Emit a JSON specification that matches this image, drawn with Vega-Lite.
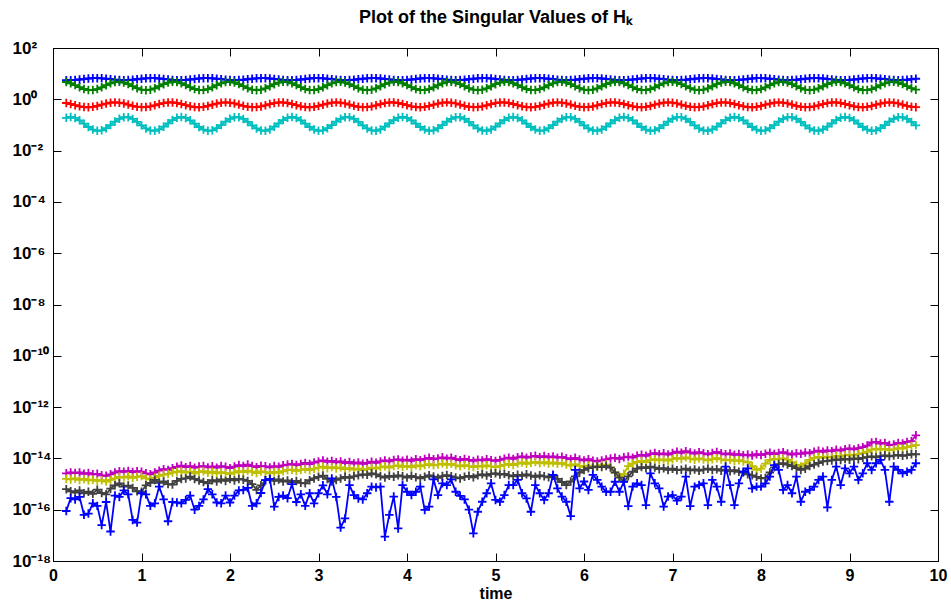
{
"$schema":"https://vega.github.io/schema/vega-lite/v6.json",
"width":885,"height":513,
"autosize":{"type":"none"},
"padding":{"left":53,"top":48,"right":13,"bottom":44},
"background":"white",
"title":{"text":"Plot of the Singular Values of Hₖ","anchor":"middle","frame":"group","font":"Liberation Sans","fontSize":18,"fontWeight":"bold","color":"black","offset":-6,"baseline":"bottom"},
"config":{"view":{"stroke":"black","strokeWidth":1},"axis":{"labelFont":"Liberation Sans","labelFontWeight":"bold","labelColor":"black","titleFont":"Liberation Sans","titleColor":"black","domainColor":"black","tickColor":"black","grid":false,"labelFlush":false,"labelOverlap":false,"labelBound":false}},
"data":{"values":[
{"t":0.15,"a":5.57,"g":4.72,"r":0.718,"c":0.19,"m":2.63e-15,"o":1.58e-15,"d":6.31e-16,"b":8.91e-17},
{"t":0.2,"a":5.57,"g":4.23,"r":0.656,"c":0.204,"m":2.82e-15,"o":1.51e-15,"d":5.25e-16,"b":2.82e-16},
{"t":0.25,"a":5.7,"g":3.57,"r":0.589,"c":0.188,"m":2.69e-15,"o":1.66e-15,"d":4.68e-16,"b":2.51e-16},
{"t":0.3,"a":5.92,"g":2.96,"r":0.532,"c":0.151,"m":2.82e-15,"o":1.45e-15,"d":5.62e-16,"b":3.16e-16},
{"t":0.35,"a":6.19,"g":2.52,"r":0.499,"c":0.112,"m":2.51e-15,"o":1.58e-15,"d":4.37e-16,"b":6.31e-17},
{"t":0.4,"a":6.46,"g":2.3,"r":0.49,"c":0.0832,"m":2.69e-15,"o":1.38e-15,"d":5.01e-16,"b":7.08e-17},
{"t":0.45,"a":6.64,"g":2.29,"r":0.509,"c":0.0658,"m":2.4e-15,"o":1.48e-15,"d":4.17e-16,"b":1.78e-16},
{"t":0.5,"a":6.68,"g":2.51,"r":0.552,"c":0.059,"m":2.51e-15,"o":1.32e-15,"d":6.03e-16,"b":1.41e-16},
{"t":0.55,"a":6.58,"g":2.93,"r":0.615,"c":0.0618,"m":2.19e-15,"o":1.41e-15,"d":4.47e-16,"b":2.51e-17},
{"t":0.6,"a":6.34,"g":3.54,"r":0.682,"c":0.0746,"m":2.09e-15,"o":1.26e-15,"d":3.98e-16,"b":2e-16},
{"t":0.65,"a":6.07,"g":4.21,"r":0.736,"c":0.0989,"m":2.4e-15,"o":1.45e-15,"d":6.61e-16,"b":1.41e-17},
{"t":0.7,"a":5.81,"g":4.71,"r":0.759,"c":0.135,"m":2.82e-15,"o":1.66e-15,"d":8.91e-16,"b":3.55e-16},
{"t":0.75,"a":5.62,"g":4.83,"r":0.74,"c":0.174,"m":3.16e-15,"o":1.91e-15,"d":1.07e-15,"b":3.16e-16},
{"t":0.8,"a":5.56,"g":4.51,"r":0.689,"c":0.201,"m":3.02e-15,"o":1.78e-15,"d":7.94e-16,"b":5.62e-16},
{"t":0.85,"a":5.62,"g":3.91,"r":0.621,"c":0.2,"m":3.24e-15,"o":2e-15,"d":8.71e-16,"b":3.98e-16},
{"t":0.9,"a":5.79,"g":3.24,"r":0.558,"c":0.171,"m":2.95e-15,"o":1.74e-15,"d":7.08e-16,"b":3.98e-17},
{"t":0.95,"a":6.06,"g":2.71,"r":0.513,"c":0.131,"m":3.16e-15,"o":1.91e-15,"d":5.25e-16,"b":3.16e-17},
{"t":1.0,"a":6.34,"g":2.38,"r":0.491,"c":0.0962,"m":3.02e-15,"o":2.04e-15,"d":5.01e-16,"b":4.37e-16},
{"t":1.05,"a":6.56,"g":2.26,"r":0.497,"c":0.073,"m":2.63e-15,"o":1.66e-15,"d":8.91e-16,"b":3.98e-16},
{"t":1.1,"a":6.68,"g":2.37,"r":0.528,"c":0.0612,"m":2.4e-15,"o":1.51e-15,"d":1.12e-15,"b":1.41e-16},
{"t":1.15,"a":6.64,"g":2.69,"r":0.582,"c":0.0593,"m":2.82e-15,"o":1.78e-15,"d":1.45e-15,"b":1.78e-16},
{"t":1.2,"a":6.47,"g":3.22,"r":0.649,"c":0.0668,"m":3.31e-15,"o":2.09e-15,"d":1.12e-15,"b":7.94e-16},
{"t":1.25,"a":6.21,"g":3.88,"r":0.713,"c":0.0853,"m":3.8e-15,"o":2.34e-15,"d":1.26e-15,"b":2.51e-16},
{"t":1.3,"a":5.93,"g":4.49,"r":0.752,"c":0.116,"m":3.55e-15,"o":2.51e-15,"d":1e-15,"b":3.55e-17},
{"t":1.35,"a":5.7,"g":4.83,"r":0.755,"c":0.155,"m":4.17e-15,"o":2.82e-15,"d":9.55e-16,"b":2e-16},
{"t":1.4,"a":5.57,"g":4.72,"r":0.718,"c":0.19,"m":4.68e-15,"o":3.02e-15,"d":1.32e-15,"b":1.91e-16},
{"t":1.45,"a":5.57,"g":4.23,"r":0.656,"c":0.204,"m":5.25e-15,"o":3.16e-15,"d":1.58e-15,"b":1.78e-16},
{"t":1.5,"a":5.7,"g":3.57,"r":0.589,"c":0.188,"m":4.57e-15,"o":2.82e-15,"d":1.66e-15,"b":2.4e-16},
{"t":1.55,"a":5.92,"g":2.96,"r":0.532,"c":0.151,"m":5.01e-15,"o":3.02e-15,"d":1.95e-15,"b":3.55e-16},
{"t":1.6,"a":6.19,"g":2.52,"r":0.499,"c":0.112,"m":4.37e-15,"o":2.63e-15,"d":1.58e-15,"b":1e-16},
{"t":1.65,"a":6.46,"g":2.3,"r":0.49,"c":0.0832,"m":4.79e-15,"o":2.95e-15,"d":1.38e-15,"b":1.41e-16},
{"t":1.7,"a":6.64,"g":2.29,"r":0.509,"c":0.0658,"m":5.01e-15,"o":3.16e-15,"d":1.2e-15,"b":2.51e-16},
{"t":1.75,"a":6.68,"g":2.51,"r":0.552,"c":0.059,"m":4.47e-15,"o":2.75e-15,"d":1.07e-15,"b":6.31e-16},
{"t":1.8,"a":6.58,"g":2.93,"r":0.615,"c":0.0618,"m":4.9e-15,"o":3.02e-15,"d":1.41e-15,"b":3.98e-16},
{"t":1.85,"a":6.34,"g":3.54,"r":0.682,"c":0.0746,"m":4.37e-15,"o":2.63e-15,"d":1.26e-15,"b":1.91e-16},
{"t":1.9,"a":6.07,"g":4.21,"r":0.736,"c":0.0989,"m":5.01e-15,"o":2.88e-15,"d":1.51e-15,"b":1.78e-16},
{"t":1.95,"a":5.81,"g":4.71,"r":0.759,"c":0.135,"m":4.68e-15,"o":2.69e-15,"d":1.32e-15,"b":3.55e-16},
{"t":2.0,"a":5.62,"g":4.83,"r":0.74,"c":0.174,"m":4.17e-15,"o":2.51e-15,"d":1.58e-15,"b":1.91e-16},
{"t":2.05,"a":5.56,"g":4.51,"r":0.689,"c":0.201,"m":4.79e-15,"o":2.82e-15,"d":1.38e-15,"b":3.55e-16},
{"t":2.1,"a":5.62,"g":3.91,"r":0.621,"c":0.2,"m":5.5e-15,"o":3.16e-15,"d":1.58e-15,"b":5.62e-16},
{"t":2.15,"a":5.79,"g":3.24,"r":0.558,"c":0.171,"m":5.01e-15,"o":2.95e-15,"d":1.48e-15,"b":5.89e-16},
{"t":2.2,"a":6.06,"g":2.71,"r":0.513,"c":0.131,"m":5.75e-15,"o":3.31e-15,"d":1.32e-15,"b":7.08e-16},
{"t":2.25,"a":6.34,"g":2.38,"r":0.491,"c":0.0962,"m":5.01e-15,"o":3.02e-15,"d":1e-15,"b":1.41e-16},
{"t":2.3,"a":6.56,"g":2.26,"r":0.497,"c":0.073,"m":4.57e-15,"o":2.69e-15,"d":5.89e-16,"b":1.78e-16},
{"t":2.35,"a":6.68,"g":2.37,"r":0.528,"c":0.0612,"m":5.13e-15,"o":3.09e-15,"d":8.91e-16,"b":4.47e-16},
{"t":2.4,"a":6.64,"g":2.69,"r":0.582,"c":0.0593,"m":4.9e-15,"o":2.88e-15,"d":1.41e-15,"b":1.41e-15},
{"t":2.45,"a":6.47,"g":3.22,"r":0.649,"c":0.0668,"m":4.47e-15,"o":2.63e-15,"d":1.58e-15,"b":1.58e-15},
{"t":2.5,"a":6.21,"g":3.88,"r":0.713,"c":0.0853,"m":5.01e-15,"o":2.95e-15,"d":1.32e-15,"b":1.32e-16},
{"t":2.55,"a":5.93,"g":4.49,"r":0.752,"c":0.116,"m":4.68e-15,"o":2.75e-15,"d":1.51e-15,"b":3.16e-16},
{"t":2.6,"a":5.7,"g":4.83,"r":0.755,"c":0.155,"m":5.37e-15,"o":3.16e-15,"d":1.26e-15,"b":3.55e-16},
{"t":2.65,"a":5.57,"g":4.72,"r":0.718,"c":0.19,"m":5.75e-15,"o":3.47e-15,"d":1.38e-15,"b":2.82e-16},
{"t":2.7,"a":5.57,"g":4.23,"r":0.656,"c":0.204,"m":6.03e-15,"o":3.63e-15,"d":1.18e-15,"b":1e-15},
{"t":2.75,"a":5.7,"g":3.57,"r":0.589,"c":0.188,"m":5.5e-15,"o":3.24e-15,"d":1.32e-15,"b":2e-16},
{"t":2.8,"a":5.92,"g":2.96,"r":0.532,"c":0.151,"m":6.03e-15,"o":3.55e-15,"d":1.12e-15,"b":3.98e-16},
{"t":2.85,"a":6.19,"g":2.52,"r":0.499,"c":0.112,"m":6.61e-15,"o":3.89e-15,"d":1.07e-15,"b":1.41e-16},
{"t":2.9,"a":6.46,"g":2.3,"r":0.49,"c":0.0832,"m":6.03e-15,"o":3.47e-15,"d":1.41e-15,"b":4.37e-16},
{"t":2.95,"a":6.64,"g":2.29,"r":0.509,"c":0.0658,"m":6.92e-15,"o":3.98e-15,"d":1.66e-15,"b":1.78e-16},
{"t":3.0,"a":6.68,"g":2.51,"r":0.552,"c":0.059,"m":7.59e-15,"o":4.37e-15,"d":1.91e-15,"b":4.37e-16},
{"t":3.05,"a":6.58,"g":2.93,"r":0.615,"c":0.0618,"m":8.32e-15,"o":4.79e-15,"d":2.14e-15,"b":8.91e-16},
{"t":3.1,"a":6.34,"g":3.54,"r":0.682,"c":0.0746,"m":7.41e-15,"o":4.17e-15,"d":1.58e-15,"b":3.98e-16},
{"t":3.15,"a":6.07,"g":4.21,"r":0.736,"c":0.0989,"m":7.94e-15,"o":4.57e-15,"d":1.26e-15,"b":1.66e-15},
{"t":3.2,"a":5.81,"g":4.71,"r":0.759,"c":0.135,"m":7.08e-15,"o":4.07e-15,"d":1.45e-15,"b":3.16e-16},
{"t":3.25,"a":5.62,"g":4.83,"r":0.74,"c":0.174,"m":7.59e-15,"o":4.47e-15,"d":1.66e-15,"b":2e-17},
{"t":3.3,"a":5.56,"g":4.51,"r":0.689,"c":0.201,"m":6.61e-15,"o":3.8e-15,"d":1.91e-15,"b":4.57e-17},
{"t":3.35,"a":5.62,"g":3.91,"r":0.621,"c":0.2,"m":7.24e-15,"o":4.17e-15,"d":1.74e-15,"b":9.12e-16},
{"t":3.4,"a":5.79,"g":3.24,"r":0.558,"c":0.171,"m":6.31e-15,"o":3.63e-15,"d":2e-15,"b":3.72e-16},
{"t":3.45,"a":6.06,"g":2.71,"r":0.513,"c":0.131,"m":6.92e-15,"o":3.98e-15,"d":2.19e-15,"b":2.75e-16},
{"t":3.5,"a":6.34,"g":2.38,"r":0.491,"c":0.0962,"m":6.17e-15,"o":3.47e-15,"d":2.4e-15,"b":2.51e-16},
{"t":3.55,"a":6.56,"g":2.26,"r":0.497,"c":0.073,"m":6.61e-15,"o":3.8e-15,"d":2.29e-15,"b":4.37e-16},
{"t":3.6,"a":6.68,"g":2.37,"r":0.528,"c":0.0612,"m":7.41e-15,"o":4.37e-15,"d":2.63e-15,"b":7.94e-16},
{"t":3.65,"a":6.64,"g":2.69,"r":0.582,"c":0.0593,"m":6.76e-15,"o":3.98e-15,"d":2.4e-15,"b":7.41e-16},
{"t":3.7,"a":6.47,"g":3.22,"r":0.649,"c":0.0668,"m":7.59e-15,"o":4.47e-15,"d":2e-15,"b":7.94e-16},
{"t":3.75,"a":6.21,"g":3.88,"r":0.713,"c":0.0853,"m":8.32e-15,"o":4.9e-15,"d":1.78e-15,"b":8.91e-18},
{"t":3.8,"a":5.93,"g":4.49,"r":0.752,"c":0.116,"m":7.59e-15,"o":4.37e-15,"d":2.09e-15,"b":6.31e-17},
{"t":3.85,"a":5.7,"g":4.83,"r":0.755,"c":0.155,"m":8.71e-15,"o":5.01e-15,"d":1.91e-15,"b":3.24e-16},
{"t":3.9,"a":5.57,"g":4.72,"r":0.718,"c":0.19,"m":9.12e-15,"o":5.37e-15,"d":2.19e-15,"b":1.86e-17},
{"t":3.95,"a":5.57,"g":4.23,"r":0.656,"c":0.204,"m":8.13e-15,"o":4.68e-15,"d":2e-15,"b":9.12e-16},
{"t":4.0,"a":5.7,"g":3.57,"r":0.589,"c":0.188,"m":8.91e-15,"o":5.13e-15,"d":1.78e-15,"b":5.01e-16},
{"t":4.05,"a":5.92,"g":2.96,"r":0.532,"c":0.151,"m":7.94e-15,"o":4.57e-15,"d":2.09e-15,"b":3.72e-16},
{"t":4.1,"a":6.19,"g":2.52,"r":0.499,"c":0.112,"m":9.33e-15,"o":5.37e-15,"d":1.86e-15,"b":5.01e-16},
{"t":4.15,"a":6.46,"g":2.3,"r":0.49,"c":0.0832,"m":8.51e-15,"o":4.9e-15,"d":1.66e-15,"b":7.94e-16},
{"t":4.2,"a":6.64,"g":2.29,"r":0.509,"c":0.0658,"m":9.55e-15,"o":5.5e-15,"d":1.91e-15,"b":9.77e-17},
{"t":4.25,"a":6.68,"g":2.51,"r":0.552,"c":0.059,"m":1.05e-14,"o":6.03e-15,"d":2.19e-15,"b":1.32e-16},
{"t":4.3,"a":6.58,"g":2.93,"r":0.615,"c":0.0618,"m":9.33e-15,"o":5.37e-15,"d":1.95e-15,"b":1.51e-15},
{"t":4.35,"a":6.34,"g":3.54,"r":0.682,"c":0.0746,"m":1e-14,"o":5.75e-15,"d":1.74e-15,"b":3.72e-16},
{"t":4.4,"a":6.07,"g":4.21,"r":0.736,"c":0.0989,"m":1.1e-14,"o":6.31e-15,"d":2.04e-15,"b":1.07e-15},
{"t":4.45,"a":5.81,"g":4.71,"r":0.759,"c":0.135,"m":9.77e-15,"o":5.62e-15,"d":2.24e-15,"b":9.12e-16},
{"t":4.5,"a":5.62,"g":4.83,"r":0.74,"c":0.174,"m":1.07e-14,"o":6.17e-15,"d":2e-15,"b":1.51e-15},
{"t":4.55,"a":5.56,"g":4.51,"r":0.689,"c":0.201,"m":9.33e-15,"o":5.37e-15,"d":1.82e-15,"b":5.01e-16},
{"t":4.6,"a":5.62,"g":3.91,"r":0.621,"c":0.2,"m":8.51e-15,"o":4.9e-15,"d":1.66e-15,"b":3.47e-16},
{"t":4.65,"a":5.79,"g":3.24,"r":0.558,"c":0.171,"m":9.55e-15,"o":5.5e-15,"d":1.91e-15,"b":2.51e-16},
{"t":4.7,"a":6.06,"g":2.71,"r":0.513,"c":0.131,"m":8.71e-15,"o":5.01e-15,"d":2.09e-15,"b":1e-16},
{"t":4.75,"a":6.34,"g":2.38,"r":0.491,"c":0.0962,"m":7.94e-15,"o":4.57e-15,"d":1.82e-15,"b":1.2e-17},
{"t":4.8,"a":6.56,"g":2.26,"r":0.497,"c":0.073,"m":8.91e-15,"o":5.13e-15,"d":2.19e-15,"b":8.32e-17},
{"t":4.85,"a":6.68,"g":2.37,"r":0.528,"c":0.0612,"m":8.32e-15,"o":4.79e-15,"d":2.4e-15,"b":2.04e-16},
{"t":4.9,"a":6.64,"g":2.69,"r":0.582,"c":0.0593,"m":9.33e-15,"o":5.37e-15,"d":2.14e-15,"b":4.37e-16},
{"t":4.95,"a":6.47,"g":3.22,"r":0.649,"c":0.0668,"m":8.51e-15,"o":4.9e-15,"d":2.51e-15,"b":1.07e-15},
{"t":5.0,"a":6.21,"g":3.88,"r":0.713,"c":0.0853,"m":7.94e-15,"o":4.57e-15,"d":2.63e-15,"b":2.4e-16},
{"t":5.05,"a":5.93,"g":4.49,"r":0.752,"c":0.116,"m":8.71e-15,"o":5.01e-15,"d":2.34e-15,"b":2.04e-16},
{"t":5.1,"a":5.7,"g":4.83,"r":0.755,"c":0.155,"m":9.77e-15,"o":5.62e-15,"d":2.51e-15,"b":3.72e-16},
{"t":5.15,"a":5.57,"g":4.72,"r":0.718,"c":0.19,"m":1.07e-14,"o":6.17e-15,"d":2.19e-15,"b":9.12e-16},
{"t":5.2,"a":5.57,"g":4.23,"r":0.656,"c":0.204,"m":9.55e-15,"o":5.5e-15,"d":2e-15,"b":9.12e-16},
{"t":5.25,"a":5.7,"g":3.57,"r":0.589,"c":0.188,"m":1.1e-14,"o":6.31e-15,"d":2.29e-15,"b":1.45e-15},
{"t":5.3,"a":5.92,"g":2.96,"r":0.532,"c":0.151,"m":1.2e-14,"o":6.92e-15,"d":2.09e-15,"b":4.37e-16},
{"t":5.35,"a":6.19,"g":2.52,"r":0.499,"c":0.112,"m":1.07e-14,"o":6.17e-15,"d":2.4e-15,"b":2.75e-16},
{"t":5.4,"a":6.46,"g":2.3,"r":0.49,"c":0.0832,"m":1.18e-14,"o":6.76e-15,"d":2.14e-15,"b":8.32e-17},
{"t":5.45,"a":6.64,"g":2.29,"r":0.509,"c":0.0658,"m":1.26e-14,"o":7.24e-15,"d":1.91e-15,"b":9.12e-16},
{"t":5.5,"a":6.68,"g":2.51,"r":0.552,"c":0.059,"m":1.12e-14,"o":6.46e-15,"d":2.19e-15,"b":4.37e-16},
{"t":5.55,"a":6.58,"g":2.93,"r":0.615,"c":0.0618,"m":1.23e-14,"o":7.08e-15,"d":2e-15,"b":2.4e-16},
{"t":5.6,"a":6.34,"g":3.54,"r":0.682,"c":0.0746,"m":1.1e-14,"o":6.31e-15,"d":1.82e-15,"b":4.37e-16},
{"t":5.65,"a":6.07,"g":4.21,"r":0.736,"c":0.0989,"m":1.2e-14,"o":6.92e-15,"d":2.09e-15,"b":2.29e-15},
{"t":5.7,"a":5.81,"g":4.71,"r":0.759,"c":0.135,"m":1.07e-14,"o":6.17e-15,"d":1.58e-15,"b":6.76e-16},
{"t":5.75,"a":5.62,"g":4.83,"r":0.74,"c":0.174,"m":1.15e-14,"o":6.61e-15,"d":1.2e-15,"b":3.24e-16},
{"t":5.8,"a":5.56,"g":4.51,"r":0.689,"c":0.201,"m":1.02e-14,"o":5.75e-15,"d":9.12e-16,"b":2.04e-16},
{"t":5.85,"a":5.62,"g":3.91,"r":0.621,"c":0.2,"m":9.33e-15,"o":5.25e-15,"d":1.26e-15,"b":5.62e-17},
{"t":5.9,"a":5.79,"g":3.24,"r":0.558,"c":0.171,"m":1.05e-14,"o":5.89e-15,"d":2e-15,"b":3.55e-15},
{"t":5.95,"a":6.06,"g":2.71,"r":0.513,"c":0.131,"m":9.12e-15,"o":5.13e-15,"d":2.82e-15,"b":6.76e-16},
{"t":6.0,"a":6.34,"g":2.38,"r":0.491,"c":0.0962,"m":8.32e-15,"o":4.68e-15,"d":3.55e-15,"b":1.26e-15},
{"t":6.05,"a":6.56,"g":2.26,"r":0.497,"c":0.073,"m":9.33e-15,"o":5.25e-15,"d":4.17e-15,"b":5.89e-16},
{"t":6.1,"a":6.68,"g":2.37,"r":0.528,"c":0.0612,"m":8.13e-15,"o":4.68e-15,"d":4.47e-15,"b":2.29e-15},
{"t":6.15,"a":6.64,"g":2.69,"r":0.582,"c":0.0593,"m":7.59e-15,"o":5.01e-15,"d":4.79e-15,"b":1.45e-15},
{"t":6.2,"a":6.47,"g":3.22,"r":0.649,"c":0.0668,"m":8.32e-15,"o":5.5e-15,"d":4.57e-15,"b":7.94e-16},
{"t":6.25,"a":6.21,"g":3.88,"r":0.713,"c":0.0853,"m":9.12e-15,"o":5.75e-15,"d":5.01e-15,"b":5.01e-16},
{"t":6.3,"a":5.93,"g":4.49,"r":0.752,"c":0.116,"m":1e-14,"o":4.47e-15,"d":4.37e-15,"b":5.01e-16},
{"t":6.35,"a":5.7,"g":4.83,"r":0.755,"c":0.155,"m":1.05e-14,"o":2.82e-15,"d":2.82e-15,"b":1.23e-15},
{"t":6.4,"a":5.57,"g":4.72,"r":0.718,"c":0.19,"m":9.55e-15,"o":1.91e-15,"d":1.78e-15,"b":5.01e-16},
{"t":6.45,"a":5.57,"g":4.23,"r":0.656,"c":0.204,"m":1.1e-14,"o":2.51e-15,"d":1.26e-15,"b":1.23e-15},
{"t":6.5,"a":5.7,"g":3.57,"r":0.589,"c":0.188,"m":1.18e-14,"o":5.01e-15,"d":2e-15,"b":1.38e-16},
{"t":6.55,"a":5.92,"g":2.96,"r":0.532,"c":0.151,"m":1.07e-14,"o":6.31e-15,"d":3.02e-15,"b":7.94e-16},
{"t":6.6,"a":6.19,"g":2.52,"r":0.499,"c":0.112,"m":1.26e-14,"o":7.24e-15,"d":3.98e-15,"b":1.07e-15},
{"t":6.65,"a":6.46,"g":2.3,"r":0.49,"c":0.0832,"m":1.38e-14,"o":7.94e-15,"d":4.57e-15,"b":9.12e-16},
{"t":6.7,"a":6.64,"g":2.29,"r":0.509,"c":0.0658,"m":1.26e-14,"o":7.24e-15,"d":4.17e-15,"b":1.51e-16},
{"t":6.75,"a":6.68,"g":2.51,"r":0.552,"c":0.059,"m":1.48e-14,"o":8.51e-15,"d":4.79e-15,"b":2.63e-15},
{"t":6.8,"a":6.58,"g":2.93,"r":0.615,"c":0.0618,"m":1.62e-14,"o":9.33e-15,"d":4.37e-15,"b":1.07e-15},
{"t":6.85,"a":6.34,"g":3.54,"r":0.682,"c":0.0746,"m":1.45e-14,"o":8.32e-15,"d":3.8e-15,"b":6.76e-16},
{"t":6.9,"a":6.07,"g":4.21,"r":0.736,"c":0.0989,"m":1.58e-14,"o":9.12e-15,"d":4.17e-15,"b":1.32e-16},
{"t":6.95,"a":5.81,"g":4.71,"r":0.759,"c":0.135,"m":1.41e-14,"o":8.13e-15,"d":3.55e-15,"b":3.24e-16},
{"t":7.0,"a":5.62,"g":4.83,"r":0.74,"c":0.174,"m":1.62e-14,"o":9.33e-15,"d":3.98e-15,"b":3.72e-16},
{"t":7.05,"a":5.56,"g":4.51,"r":0.689,"c":0.201,"m":1.82e-14,"o":1.05e-14,"d":3.47e-15,"b":2.24e-16},
{"t":7.1,"a":5.62,"g":3.91,"r":0.621,"c":0.2,"m":1.66e-14,"o":9.55e-15,"d":3.63e-15,"b":3.24e-16},
{"t":7.15,"a":5.79,"g":3.24,"r":0.558,"c":0.171,"m":1.91e-14,"o":1.1e-14,"d":3.98e-15,"b":1.95e-15},
{"t":7.2,"a":6.06,"g":2.71,"r":0.513,"c":0.131,"m":1.7e-14,"o":9.77e-15,"d":3.39e-15,"b":1.38e-16},
{"t":7.25,"a":6.34,"g":2.38,"r":0.491,"c":0.0962,"m":1.55e-14,"o":8.91e-15,"d":3.72e-15,"b":7.94e-16},
{"t":7.3,"a":6.56,"g":2.26,"r":0.497,"c":0.073,"m":1.74e-14,"o":1e-14,"d":3.31e-15,"b":9.12e-16},
{"t":7.35,"a":6.68,"g":2.37,"r":0.528,"c":0.0612,"m":1.58e-14,"o":9.12e-15,"d":3.63e-15,"b":1.07e-15},
{"t":7.4,"a":6.64,"g":2.69,"r":0.582,"c":0.0593,"m":1.45e-14,"o":8.32e-15,"d":3.98e-15,"b":1.51e-16},
{"t":7.45,"a":6.47,"g":3.22,"r":0.649,"c":0.0668,"m":1.62e-14,"o":9.33e-15,"d":3.55e-15,"b":1.45e-15},
{"t":7.5,"a":6.21,"g":3.88,"r":0.713,"c":0.0853,"m":1.78e-14,"o":1.02e-14,"d":3.8e-15,"b":7.94e-16},
{"t":7.55,"a":5.93,"g":4.49,"r":0.752,"c":0.116,"m":1.58e-14,"o":9.12e-15,"d":3.31e-15,"b":2.04e-16},
{"t":7.6,"a":5.7,"g":4.83,"r":0.755,"c":0.155,"m":1.45e-14,"o":8.32e-15,"d":3.63e-15,"b":4.79e-15},
{"t":7.65,"a":5.57,"g":4.72,"r":0.718,"c":0.19,"m":1.55e-14,"o":8.91e-15,"d":3.16e-15,"b":9.12e-16},
{"t":7.7,"a":5.57,"g":4.23,"r":0.656,"c":0.204,"m":1.38e-14,"o":7.94e-15,"d":3.47e-15,"b":1.51e-16},
{"t":7.75,"a":5.7,"g":3.57,"r":0.589,"c":0.188,"m":1.48e-14,"o":8.51e-15,"d":3.02e-15,"b":1.07e-15},
{"t":7.8,"a":5.92,"g":2.96,"r":0.532,"c":0.151,"m":1.32e-14,"o":7.59e-15,"d":2.82e-15,"b":3.02e-15},
{"t":7.85,"a":6.19,"g":2.52,"r":0.499,"c":0.112,"m":1.41e-14,"o":7.08e-15,"d":2.4e-15,"b":4.07e-15},
{"t":7.9,"a":6.46,"g":2.3,"r":0.49,"c":0.0832,"m":1.29e-14,"o":5.01e-15,"d":2.19e-15,"b":6.76e-16},
{"t":7.95,"a":6.64,"g":2.29,"r":0.509,"c":0.0658,"m":1.45e-14,"o":3.55e-15,"d":1.91e-15,"b":7.94e-16},
{"t":8.0,"a":6.68,"g":2.51,"r":0.552,"c":0.059,"m":1.35e-14,"o":3.98e-15,"d":1.66e-15,"b":7.94e-16},
{"t":8.05,"a":6.58,"g":2.93,"r":0.615,"c":0.0618,"m":1.51e-14,"o":6.31e-15,"d":1.74e-15,"b":1.07e-15},
{"t":8.1,"a":6.34,"g":3.54,"r":0.682,"c":0.0746,"m":1.66e-14,"o":8.71e-15,"d":2.82e-15,"b":1.95e-15},
{"t":8.15,"a":6.07,"g":4.21,"r":0.736,"c":0.0989,"m":1.48e-14,"o":9.55e-15,"d":4.47e-15,"b":5.5e-15},
{"t":8.2,"a":5.81,"g":4.71,"r":0.759,"c":0.135,"m":1.62e-14,"o":9.12e-15,"d":6.03e-15,"b":3.55e-15},
{"t":8.25,"a":5.62,"g":4.83,"r":0.74,"c":0.174,"m":1.74e-14,"o":1e-14,"d":6.46e-15,"b":5.89e-16},
{"t":8.3,"a":5.56,"g":4.51,"r":0.689,"c":0.201,"m":1.55e-14,"o":8.91e-15,"d":5.75e-15,"b":9.12e-16},
{"t":8.35,"a":5.62,"g":3.91,"r":0.621,"c":0.2,"m":1.41e-14,"o":7.08e-15,"d":5.01e-15,"b":4.37e-16},
{"t":8.4,"a":5.79,"g":3.24,"r":0.558,"c":0.171,"m":1.58e-14,"o":5.62e-15,"d":4.17e-15,"b":1.95e-15},
{"t":8.45,"a":6.06,"g":2.71,"r":0.513,"c":0.131,"m":1.51e-14,"o":4.79e-15,"d":3.55e-15,"b":2.04e-16},
{"t":8.5,"a":6.34,"g":2.38,"r":0.491,"c":0.0962,"m":1.7e-14,"o":6.31e-15,"d":3.98e-15,"b":5.01e-16},
{"t":8.55,"a":6.56,"g":2.26,"r":0.497,"c":0.073,"m":1.58e-14,"o":8.71e-15,"d":5.01e-15,"b":5.89e-16},
{"t":8.6,"a":6.68,"g":2.37,"r":0.528,"c":0.0612,"m":1.82e-14,"o":1.05e-14,"d":5.75e-15,"b":7.94e-16},
{"t":8.65,"a":6.64,"g":2.69,"r":0.582,"c":0.0593,"m":2e-14,"o":1.15e-14,"d":6.61e-15,"b":1.45e-15},
{"t":8.7,"a":6.47,"g":3.22,"r":0.649,"c":0.0668,"m":1.82e-14,"o":1.05e-14,"d":7.59e-15,"b":1.95e-15},
{"t":8.75,"a":6.21,"g":3.88,"r":0.713,"c":0.0853,"m":2.04e-14,"o":1.18e-14,"d":7.94e-15,"b":1.23e-16},
{"t":8.8,"a":5.93,"g":4.49,"r":0.752,"c":0.116,"m":1.91e-14,"o":1.1e-14,"d":8.32e-15,"b":1.45e-15},
{"t":8.85,"a":5.7,"g":4.83,"r":0.755,"c":0.155,"m":2.19e-14,"o":1.26e-14,"d":9.12e-15,"b":4.79e-15},
{"t":8.9,"a":5.57,"g":4.72,"r":0.718,"c":0.19,"m":2e-14,"o":1.15e-14,"d":8.71e-15,"b":9.12e-16},
{"t":8.95,"a":5.57,"g":4.23,"r":0.656,"c":0.204,"m":2.29e-14,"o":1.32e-14,"d":9.55e-15,"b":4.07e-15},
{"t":9.0,"a":5.7,"g":3.57,"r":0.589,"c":0.188,"m":2.45e-14,"o":1.41e-14,"d":8.91e-15,"b":2.63e-15},
{"t":9.05,"a":5.92,"g":2.96,"r":0.532,"c":0.151,"m":2.24e-14,"o":1.29e-14,"d":1e-14,"b":4.79e-15},
{"t":9.1,"a":6.19,"g":2.52,"r":0.499,"c":0.112,"m":2.51e-14,"o":1.48e-14,"d":9.33e-15,"b":1.45e-15},
{"t":9.15,"a":6.46,"g":2.3,"r":0.49,"c":0.0832,"m":2.75e-14,"o":1.62e-14,"d":1.05e-14,"b":2.63e-15},
{"t":9.2,"a":6.64,"g":2.29,"r":0.509,"c":0.0658,"m":3.16e-14,"o":1.82e-14,"d":1.12e-14,"b":6.46e-15},
{"t":9.25,"a":6.68,"g":2.51,"r":0.552,"c":0.059,"m":4.17e-14,"o":2.19e-14,"d":1.2e-14,"b":3.55e-15},
{"t":9.3,"a":6.58,"g":2.93,"r":0.615,"c":0.0618,"m":4.37e-14,"o":2.4e-14,"d":1.1e-14,"b":6.46e-15},
{"t":9.35,"a":6.34,"g":3.54,"r":0.682,"c":0.0746,"m":3.8e-14,"o":2.19e-14,"d":1.23e-14,"b":8.71e-15},
{"t":9.4,"a":6.07,"g":4.21,"r":0.736,"c":0.0989,"m":3.98e-14,"o":2.34e-14,"d":1.32e-14,"b":3.55e-15},
{"t":9.45,"a":5.81,"g":4.71,"r":0.759,"c":0.135,"m":3.31e-14,"o":2.09e-14,"d":1.2e-14,"b":2.04e-16},
{"t":9.5,"a":5.62,"g":4.83,"r":0.74,"c":0.174,"m":3.47e-14,"o":2.24e-14,"d":1.29e-14,"b":4.79e-15},
{"t":9.55,"a":5.56,"g":4.51,"r":0.689,"c":0.201,"m":3.98e-14,"o":2.51e-14,"d":1.38e-14,"b":3.55e-15},
{"t":9.6,"a":5.62,"g":3.91,"r":0.621,"c":0.2,"m":3.8e-14,"o":2.4e-14,"d":1.26e-14,"b":2.63e-15},
{"t":9.65,"a":5.79,"g":3.24,"r":0.558,"c":0.171,"m":4.37e-14,"o":2.75e-14,"d":1.35e-14,"b":3.02e-15},
{"t":9.7,"a":6.06,"g":2.71,"r":0.513,"c":0.131,"m":4.68e-14,"o":3.02e-14,"d":1.45e-14,"b":3.55e-15},
{"t":9.75,"a":6.34,"g":2.38,"r":0.491,"c":0.0962,"m":7.94e-14,"o":3.31e-14,"d":1.45e-14,"b":6.46e-15}
]},
"layer":[
{"encoding":{"x":{"field":"t","type":"quantitative","scale":{"domain":[0,10],"nice":false,"zero":false},"axis":{"values":[0,1,2,3,4,5,6,7,8,9,10],"format":"d","tickSize":-8,"labelPadding":14,"labelFontSize":16,"title":"time","titleFontSize":16,"titleFontWeight":"bold","titlePadding":2}}},
"layer":[
{"mark":{"type":"line","color":"#0000ff","strokeWidth":1.8,"point":{"shape":"M-1,0L1,0M0,-1L0,1","filled":false,"size":72,"strokeWidth":1.8,"color":"#0000ff"}},"encoding":{"y":{"field":"a","type":"quantitative","scale":{"type":"log","domain":[1e-18,100],"nice":false},"axis":{"title":null,"values":[100,1,0.01,0.0001,1e-6,1e-8,1e-10,1e-12,1e-14,1e-16,1e-18],"tickSize":-8,"labelPadding":49,"labelAlign":"left","labelBaseline":"middle","labelFontSize":17,"labelExpr":"datum.value > 10 ? '10²' : datum.value > 0.1 ? '10⁰' : datum.value > 0.001 ? '10⁻²' : datum.value > 0.00001 ? '10⁻⁴' : datum.value > 1e-7 ? '10⁻⁶' : datum.value > 1e-9 ? '10⁻⁸' : datum.value > 1e-11 ? '10⁻¹⁰' : datum.value > 1e-13 ? '10⁻¹²' : datum.value > 1e-15 ? '10⁻¹⁴' : datum.value > 1e-17 ? '10⁻¹⁶' : '10⁻¹⁸'"}}}},
{"mark":{"type":"line","color":"#008000","strokeWidth":1.8,"point":{"shape":"M-1,0L1,0M0,-1L0,1","filled":false,"size":72,"strokeWidth":1.8,"color":"#008000"}},"encoding":{"y":{"field":"g","type":"quantitative","scale":{"type":"log","domain":[1e-18,100],"nice":false},"axis":{"title":null,"values":[100,1,0.01,0.0001,1e-6,1e-8,1e-10,1e-12,1e-14,1e-16,1e-18],"tickSize":-8,"labelPadding":49,"labelAlign":"left","labelBaseline":"middle","labelFontSize":17,"labelExpr":"datum.value > 10 ? '10²' : datum.value > 0.1 ? '10⁰' : datum.value > 0.001 ? '10⁻²' : datum.value > 0.00001 ? '10⁻⁴' : datum.value > 1e-7 ? '10⁻⁶' : datum.value > 1e-9 ? '10⁻⁸' : datum.value > 1e-11 ? '10⁻¹⁰' : datum.value > 1e-13 ? '10⁻¹²' : datum.value > 1e-15 ? '10⁻¹⁴' : datum.value > 1e-17 ? '10⁻¹⁶' : '10⁻¹⁸'"}}}},
{"mark":{"type":"line","color":"#ff0000","strokeWidth":1.8,"point":{"shape":"M-1,0L1,0M0,-1L0,1","filled":false,"size":72,"strokeWidth":1.8,"color":"#ff0000"}},"encoding":{"y":{"field":"r","type":"quantitative","scale":{"type":"log","domain":[1e-18,100],"nice":false},"axis":{"title":null,"values":[100,1,0.01,0.0001,1e-6,1e-8,1e-10,1e-12,1e-14,1e-16,1e-18],"tickSize":-8,"labelPadding":49,"labelAlign":"left","labelBaseline":"middle","labelFontSize":17,"labelExpr":"datum.value > 10 ? '10²' : datum.value > 0.1 ? '10⁰' : datum.value > 0.001 ? '10⁻²' : datum.value > 0.00001 ? '10⁻⁴' : datum.value > 1e-7 ? '10⁻⁶' : datum.value > 1e-9 ? '10⁻⁸' : datum.value > 1e-11 ? '10⁻¹⁰' : datum.value > 1e-13 ? '10⁻¹²' : datum.value > 1e-15 ? '10⁻¹⁴' : datum.value > 1e-17 ? '10⁻¹⁶' : '10⁻¹⁸'"}}}},
{"mark":{"type":"line","color":"#00bfbf","strokeWidth":1.8,"point":{"shape":"M-1,0L1,0M0,-1L0,1","filled":false,"size":72,"strokeWidth":1.8,"color":"#00bfbf"}},"encoding":{"y":{"field":"c","type":"quantitative","scale":{"type":"log","domain":[1e-18,100],"nice":false},"axis":{"title":null,"values":[100,1,0.01,0.0001,1e-6,1e-8,1e-10,1e-12,1e-14,1e-16,1e-18],"tickSize":-8,"labelPadding":49,"labelAlign":"left","labelBaseline":"middle","labelFontSize":17,"labelExpr":"datum.value > 10 ? '10²' : datum.value > 0.1 ? '10⁰' : datum.value > 0.001 ? '10⁻²' : datum.value > 0.00001 ? '10⁻⁴' : datum.value > 1e-7 ? '10⁻⁶' : datum.value > 1e-9 ? '10⁻⁸' : datum.value > 1e-11 ? '10⁻¹⁰' : datum.value > 1e-13 ? '10⁻¹²' : datum.value > 1e-15 ? '10⁻¹⁴' : datum.value > 1e-17 ? '10⁻¹⁶' : '10⁻¹⁸'"}}}},
{"mark":{"type":"line","color":"#bf00bf","strokeWidth":1.8,"point":{"shape":"M-1,0L1,0M0,-1L0,1","filled":false,"size":72,"strokeWidth":1.8,"color":"#bf00bf"}},"encoding":{"y":{"field":"m","type":"quantitative","scale":{"type":"log","domain":[1e-18,100],"nice":false},"axis":{"title":null,"values":[100,1,0.01,0.0001,1e-6,1e-8,1e-10,1e-12,1e-14,1e-16,1e-18],"tickSize":-8,"labelPadding":49,"labelAlign":"left","labelBaseline":"middle","labelFontSize":17,"labelExpr":"datum.value > 10 ? '10²' : datum.value > 0.1 ? '10⁰' : datum.value > 0.001 ? '10⁻²' : datum.value > 0.00001 ? '10⁻⁴' : datum.value > 1e-7 ? '10⁻⁶' : datum.value > 1e-9 ? '10⁻⁸' : datum.value > 1e-11 ? '10⁻¹⁰' : datum.value > 1e-13 ? '10⁻¹²' : datum.value > 1e-15 ? '10⁻¹⁴' : datum.value > 1e-17 ? '10⁻¹⁶' : '10⁻¹⁸'"}}}},
{"mark":{"type":"line","color":"#bfbf00","strokeWidth":1.8,"point":{"shape":"M-1,0L1,0M0,-1L0,1","filled":false,"size":72,"strokeWidth":1.8,"color":"#bfbf00"}},"encoding":{"y":{"field":"o","type":"quantitative","scale":{"type":"log","domain":[1e-18,100],"nice":false},"axis":{"title":null,"values":[100,1,0.01,0.0001,1e-6,1e-8,1e-10,1e-12,1e-14,1e-16,1e-18],"tickSize":-8,"labelPadding":49,"labelAlign":"left","labelBaseline":"middle","labelFontSize":17,"labelExpr":"datum.value > 10 ? '10²' : datum.value > 0.1 ? '10⁰' : datum.value > 0.001 ? '10⁻²' : datum.value > 0.00001 ? '10⁻⁴' : datum.value > 1e-7 ? '10⁻⁶' : datum.value > 1e-9 ? '10⁻⁸' : datum.value > 1e-11 ? '10⁻¹⁰' : datum.value > 1e-13 ? '10⁻¹²' : datum.value > 1e-15 ? '10⁻¹⁴' : datum.value > 1e-17 ? '10⁻¹⁶' : '10⁻¹⁸'"}}}},
{"mark":{"type":"line","color":"#404040","strokeWidth":1.8,"point":{"shape":"M-1,0L1,0M0,-1L0,1","filled":false,"size":72,"strokeWidth":1.8,"color":"#404040"}},"encoding":{"y":{"field":"d","type":"quantitative","scale":{"type":"log","domain":[1e-18,100],"nice":false},"axis":{"title":null,"values":[100,1,0.01,0.0001,1e-6,1e-8,1e-10,1e-12,1e-14,1e-16,1e-18],"tickSize":-8,"labelPadding":49,"labelAlign":"left","labelBaseline":"middle","labelFontSize":17,"labelExpr":"datum.value > 10 ? '10²' : datum.value > 0.1 ? '10⁰' : datum.value > 0.001 ? '10⁻²' : datum.value > 0.00001 ? '10⁻⁴' : datum.value > 1e-7 ? '10⁻⁶' : datum.value > 1e-9 ? '10⁻⁸' : datum.value > 1e-11 ? '10⁻¹⁰' : datum.value > 1e-13 ? '10⁻¹²' : datum.value > 1e-15 ? '10⁻¹⁴' : datum.value > 1e-17 ? '10⁻¹⁶' : '10⁻¹⁸'"}}}},
{"mark":{"type":"line","color":"#0000ff","strokeWidth":1.8,"point":{"shape":"M-1,0L1,0M0,-1L0,1","filled":false,"size":72,"strokeWidth":1.8,"color":"#0000ff"}},"encoding":{"y":{"field":"b","type":"quantitative","scale":{"type":"log","domain":[1e-18,100],"nice":false},"axis":{"title":null,"values":[100,1,0.01,0.0001,1e-6,1e-8,1e-10,1e-12,1e-14,1e-16,1e-18],"tickSize":-8,"labelPadding":49,"labelAlign":"left","labelBaseline":"middle","labelFontSize":17,"labelExpr":"datum.value > 10 ? '10²' : datum.value > 0.1 ? '10⁰' : datum.value > 0.001 ? '10⁻²' : datum.value > 0.00001 ? '10⁻⁴' : datum.value > 1e-7 ? '10⁻⁶' : datum.value > 1e-9 ? '10⁻⁸' : datum.value > 1e-11 ? '10⁻¹⁰' : datum.value > 1e-13 ? '10⁻¹²' : datum.value > 1e-15 ? '10⁻¹⁴' : datum.value > 1e-17 ? '10⁻¹⁶' : '10⁻¹⁸'"}}}}
]},
{"mark":{"type":"point","opacity":0},
"encoding":{"x":{"field":"t","type":"quantitative","scale":{"domain":[0,10],"nice":false,"zero":false},"axis":{"orient":"top","values":[0,1,2,3,4,5,6,7,8,9,10],"labels":false,"tickSize":-8,"title":null}},
"y":{"field":"a","type":"quantitative","scale":{"type":"log","domain":[1e-18,100],"nice":false},"axis":{"orient":"right","values":[100,1,0.01,0.0001,1e-6,1e-8,1e-10,1e-12,1e-14,1e-16,1e-18],"labels":false,"tickSize":-8,"title":null}}}}
],
"resolve":{"axis":{"x":"independent","y":"independent"}}
}
